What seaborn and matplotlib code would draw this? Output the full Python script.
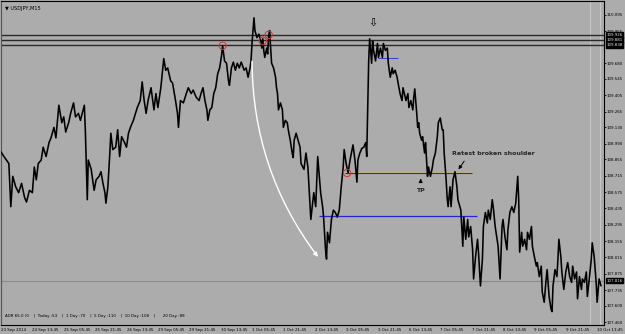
import matplotlib
matplotlib.use("Agg")
import matplotlib.pyplot as plt
import matplotlib.transforms as mtransforms
import pandas as pd
import seaborn as sns

# USDJPY M15 - price (x = half-hour slot from chart start)
slot = [0, 3, 8, 10, 12, 15, 18, 21, 24, 26,
        29, 32, 34, 36, 38, 41, 43, 46, 49, 51,
        54, 56, 58, 59, 62, 64, 66, 69, 71, 74,
        76, 79, 81, 85, 86, 88, 89, 92, 95, 97,
        100, 102, 104, 106, 107, 109, 111, 112, 114, 117,
        119, 121, 123, 126, 128, 130, 132, 135, 139, 142,
        144, 146, 148, 150, 153, 156, 158, 160, 163, 166,
        168, 170, 173, 175, 178, 180, 181, 183, 186, 189,
        191, 194, 196, 199, 202, 204, 206, 208, 210, 211,
        213, 215, 217, 219, 221, 223, 225, 226, 228, 230,
        232, 233, 235, 237, 239, 241, 243, 245, 248, 250,
        252, 254, 255, 256, 258, 259, 261, 263, 265, 266,
        267, 268, 269, 271, 272, 273, 274, 275, 276, 278,
        280, 281, 282, 283, 285, 287, 288, 290, 292, 293,
        295, 297, 298, 299, 301, 303, 305, 306, 309, 311,
        313, 316, 319, 321, 323, 326, 328, 329, 331, 332,
        333, 335, 337, 339, 341, 343, 345, 347, 349, 350,
        352, 354, 356, 359, 361, 363, 364, 366, 368, 370,
        372, 373, 374, 375, 376, 378, 379, 380, 382, 384,
        385, 387, 389, 390, 392, 394, 395, 397, 399, 400,
        402, 404, 405, 407, 409, 410, 413, 415, 416, 418,
        420, 421, 422, 424, 425, 426, 427, 429, 430, 432,
        433, 435, 436, 438, 440, 441, 443, 445, 446, 448,
        450, 451, 452, 454, 455, 456, 458, 459, 461, 463,
        465, 466, 469, 471, 472, 474, 476, 477, 479, 481,
        482, 484, 486, 487, 489, 491, 492, 494, 496, 497,
        499, 501, 502, 504, 506, 507, 509, 511, 512, 514,
        516, 517, 519, 521, 523, 525, 527, 528, 529, 531,
        532, 534, 536, 537, 539, 541, 542, 544, 546, 547,
        549, 551, 552, 554, 556, 557, 559, 561, 562, 563,
        565, 567, 568, 569, 571, 572, 574, 576, 578, 580,
        582, 583, 585, 587, 588, 590, 592, 593, 595, 597,
        598, 600, 602, 603, 605, 607, 608, 610, 612]
price = [108.92, 108.88, 108.82, 108.45, 108.71, 108.62, 108.57, 108.65, 108.53, 108.49,
         108.59, 108.57, 108.79, 108.68, 108.82, 108.85, 108.96, 108.88, 109.00, 109.04,
         109.13, 109.04, 109.22, 109.32, 109.17, 109.22, 109.09, 109.17, 109.25, 109.34,
         109.22, 109.25, 109.19, 109.32, 109.11, 108.51, 108.85, 108.77, 108.59, 108.68,
         108.71, 108.75, 108.65, 108.57, 108.48, 108.62, 108.91, 109.08, 108.94, 108.96,
         109.11, 108.88, 109.05, 109.00, 108.96, 109.08, 109.13, 109.19, 109.30, 109.36,
         109.52, 109.36, 109.25, 109.36, 109.47, 109.28, 109.42, 109.30, 109.47, 109.72,
         109.62, 109.64, 109.53, 109.51, 109.36, 109.25, 109.13, 109.36, 109.34, 109.42,
         109.47, 109.42, 109.45, 109.39, 109.36, 109.42, 109.47, 109.36, 109.28, 109.19,
         109.28, 109.30, 109.42, 109.47, 109.59, 109.64, 109.75, 109.83, 109.70, 109.68,
         109.53, 109.49, 109.64, 109.69, 109.62, 109.68, 109.64, 109.69, 109.62, 109.64,
         109.56, 109.64, 109.70, 109.85, 110.07, 109.96, 109.90, 109.93, 109.87, 109.81,
         109.89, 109.79, 109.73, 109.81, 109.76, 109.92, 109.96, 109.81, 109.68, 109.64,
         109.56, 109.47, 109.42, 109.28, 109.34, 109.28, 109.13, 109.19, 109.17, 109.11,
         109.02, 108.91, 108.87, 109.02, 109.08, 109.02, 108.96, 108.82, 108.77, 108.91,
         108.79, 108.34, 108.57, 108.45, 108.88, 108.57, 108.45, 108.36, 108.08, 108.00,
         108.23, 108.14, 108.34, 108.42, 108.40, 108.36, 108.42, 108.62, 108.79, 108.94,
         108.82, 108.74, 108.85, 108.98, 108.85, 108.66, 108.85, 108.91, 108.95, 108.96,
         109.00, 108.88, 109.28, 109.70, 109.89, 109.68, 109.87, 109.79, 109.70, 109.85,
         109.73, 109.81, 109.73, 109.85, 109.79, 109.81, 109.68, 109.56, 109.64, 109.59,
         109.62, 109.56, 109.51, 109.42, 109.36, 109.47, 109.36, 109.42, 109.30, 109.36,
         109.28, 109.39, 109.46, 109.25, 109.13, 109.17, 109.08, 109.02, 109.05, 108.91,
         109.00, 108.71, 108.79, 108.71, 108.79, 108.85, 108.91, 109.05, 109.17, 109.21,
         109.11, 109.11, 108.91, 108.68, 108.53, 108.45, 108.62, 108.45, 108.68, 108.75,
         108.62, 108.51, 108.42, 108.11, 108.36, 108.17, 108.34, 108.19, 108.28, 108.08,
         107.83, 108.02, 108.17, 108.06, 107.77, 108.00, 108.28, 108.40, 108.31, 108.42,
         108.34, 108.51, 108.45, 108.28, 108.17, 108.11, 107.83, 108.28, 108.34, 108.19,
         108.08, 108.25, 108.40, 108.45, 108.40, 108.48, 108.71, 108.51, 108.06, 108.23,
         108.11, 108.17, 108.08, 108.23, 108.17, 108.28, 108.11, 108.02, 107.94, 107.97,
         107.85, 107.94, 107.72, 107.63, 107.83, 107.91, 107.68, 107.57, 107.55, 107.77,
         107.91, 107.85, 108.00, 108.17, 108.02, 107.89, 107.74, 107.89, 107.97, 107.85,
         107.80, 107.94, 107.83, 107.89, 107.66, 107.85, 107.74, 107.83, 107.80, 107.89,
         107.68, 107.83, 108.00, 108.14, 108.02, 107.80, 107.63, 107.83, 107.77]

date_labels = ["23 Sep 2014", "24 Sep 13:45", "25 Sep 05:45", "25 Sep 21:45", "26 Sep 13:45",
               "29 Sep 05:45", "29 Sep 21:45", "30 Sep 13:45", "1 Oct 05:45", "1 Oct 21:45",
               "2 Oct 13:45", "3 Oct 05:45", "3 Oct 21:45", "6 Oct 13:45", "7 Oct 05:45",
               "7 Oct 21:45", "8 Oct 13:45", "9 Oct 05:45", "9 Oct 21:45", "10 Oct 13:45"]
date_slots = [i * 32 for i in range(len(date_labels))]

price_ticks = [110.095, 109.955, 109.680, 109.545, 109.405, 109.265, 109.130, 108.990,
               108.855, 108.715, 108.575, 108.435, 108.295, 108.155, 108.015, 107.875,
               107.735, 107.600, 107.460]

resist_levels = [109.924, 109.882, 109.839]
resist_labels = ["109.926", "109.881", "109.838"]
last_price = 107.816
neck_level = 108.740
support_level = 108.373
short_level = 109.728
circle_slots = [226, 267, 273, 353]
circle_prices = [109.830, 109.873, 109.924, 108.739]

BG = "#acacac"
FS = 2.9

sns.set_style("white")
plt.rcParams["font.family"] = ["DejaVu Sans"]

df = pd.DataFrame({"slot": slot, "price": price})

fig = plt.figure(figsize=(6.25, 3.34), dpi=100, facecolor=BG)
ax = fig.add_axes([1 / 625, 9 / 334, 603 / 625, 324 / 334])
ax.set_facecolor(BG)

# light vertical lines near the right edge
for v in [601, 611]:
    ax.axvline(v, color="#c6c6c6", lw=0.8, zorder=1)

# current price line
ax.axhline(last_price, color="#7f8c9a", lw=0.8, zorder=1)

# resistance lines
for lv in resist_levels:
    ax.axhline(lv, color="#2a2a2a", lw=1.0, zorder=2)

# drawn levels
ax.hlines(neck_level + 0.009, 351, 480, color="#c9b97a", lw=0.7, zorder=2)
ax.hlines(neck_level, 351, 480, color="#2525c8", lw=0.8, zorder=2)
ax.hlines(support_level, 324, 485, color="#2525d0", lw=0.9, zorder=2)
ax.hlines(short_level, 385, 405, color="#3a3ad0", lw=0.7, zorder=2)

sns.lineplot(data=df, x="slot", y="price", estimator=None, sort=False,
             color="black", lw=1.15, ax=ax, zorder=3)

ax.scatter(circle_slots, circle_prices, s=28, facecolors="none",
           edgecolors="#d83030", linewidths=0.7, zorder=4)

# white curved arrow
ax.annotate("", xy=(325, 108.00), xytext=(256, 109.72),
            arrowprops=dict(arrowstyle="-|>", color="white", lw=1.0,
                            mutation_scale=6,
                            connectionstyle="arc3,rad=0.17"), zorder=4)

# hollow down arrow above the peak
ax.text(379, 110.03, "\u21e9", fontsize=8, ha="center", va="center", color="black")

# TP marker
ax.annotate("", xy=(428, 108.715), xytext=(428, 108.65),
            arrowprops=dict(arrowstyle="-|>", color="black", lw=0.8, mutation_scale=5))
ax.text(428, 108.585, "TP", fontsize=4.5, fontweight="bold", ha="center", va="center")

# retest text
ax.text(502, 108.905, "Retest broken shoulder", fontsize=4.5, fontweight="bold",
        ha="center", va="center")
ax.annotate("", xy=(465, 108.75), xytext=(474, 108.86),
            arrowprops=dict(arrowstyle="-|>", color="black", lw=0.7, mutation_scale=5))

ax.text(0.006, 0.985, "\u25bc USDJPY,M15", transform=ax.transAxes, fontsize=3.6,
        ha="left", va="top", color="black")
ax.text(0.006, 0.022, "ADR 65.0 (0    |  Today :53    |  1 Day :70    |  5 Day :110    |  "
        "10 Day :108    |      20 Day :88", transform=ax.transAxes, fontsize=FS,
        ha="left", va="bottom", color="black")

# axes
ax.set_xlim(0, 615)
ax.set_ylim(107.435, 110.214)
ax.yaxis.tick_right()
ax.set_yticks(price_ticks)
ax.set_yticklabels([f"{v:.3f}" for v in price_ticks])
ax.set_xticks(date_slots)
ax.set_xticklabels(date_labels, ha="left")
ax.tick_params(axis="both", labelsize=FS, length=1.5, width=0.6, pad=0.4,
               colors="black", direction="out")
ax.set_xlabel("")
ax.set_ylabel("")
for s in ax.spines.values():
    s.set_color("black")
    s.set_linewidth(0.8)
ax.spines["left"].set_color("#555555")

# price boxes on the right axis
trans = mtransforms.blended_transform_factory(ax.transAxes, ax.transData)
for lv, lab in zip(resist_levels, resist_labels):
    ax.text(1.004, lv, lab, transform=trans, fontsize=FS, color="#e0e0e0",
            ha="left", va="center", clip_on=False,
            bbox=dict(boxstyle="square,pad=0.2", fc="black", ec="black"))
ax.text(1.004, last_price, f"{last_price:.3f}", transform=trans, fontsize=FS,
        color="#e0e0e0", ha="left", va="center", clip_on=False,
        bbox=dict(boxstyle="square,pad=0.2", fc="black", ec="black"))

fig.savefig("out.png", dpi=100, facecolor=BG)
